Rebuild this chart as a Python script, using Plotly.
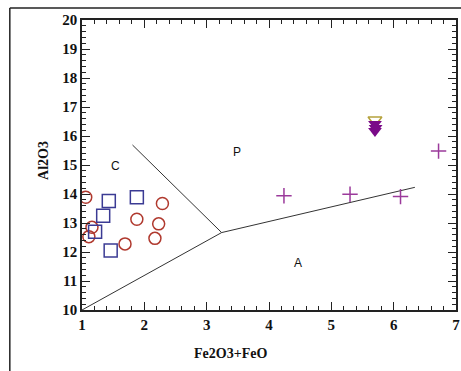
import plotly.graph_objects as go

# Sample groups: Fe2O3+FeO (x) vs Al2O3 (y)
circle_x = [1.06, 1.16, 1.11, 1.69, 1.88, 2.23, 2.29, 2.17]
circle_y = [13.89, 12.85, 12.53, 12.28, 13.13, 12.97, 13.67, 12.47]

square_x = [1.43, 1.34, 1.21, 1.46, 1.88]
square_y = [13.76, 13.25, 12.70, 12.05, 13.89]

plus_x = [4.24, 5.30, 6.11, 6.72]
plus_y = [13.94, 13.99, 13.91, 15.48]

tri_open_x = [5.70]
tri_open_y = [16.55]

tri_x = [5.70, 5.71, 5.70]
tri_y = [16.41, 16.28, 16.17]

# Field boundaries
bound_lower_x = [1.0, 3.24, 6.34]
bound_lower_y = [10.0, 12.67, 14.23]
bound_upper_x = [1.81, 3.24]
bound_upper_y = [15.69, 12.67]

# Field labels
field_names = ["C", "P", "A"]
field_x = [1.54, 3.49, 4.46]
field_y = [14.97, 15.45, 11.62]

fig = go.Figure()

line_style = dict(color="#333333", width=1)
fig.add_trace(go.Scatter(x=bound_lower_x, y=bound_lower_y, mode="lines", line=line_style))
fig.add_trace(go.Scatter(x=bound_upper_x, y=bound_upper_y, mode="lines", line=line_style))

fig.add_trace(go.Scatter(
    x=circle_x, y=circle_y, mode="markers",
    marker=dict(symbol="circle-open", size=12, color="#b0392e", line=dict(width=1.5)),
))
fig.add_trace(go.Scatter(
    x=square_x, y=square_y, mode="markers",
    marker=dict(symbol="square-open", size=13, color="#3b3b94", line=dict(width=1.5)),
))
fig.add_trace(go.Scatter(
    x=plus_x, y=plus_y, mode="markers",
    marker=dict(symbol="cross-thin-open", size=11, color="#9b3a9b", line=dict(width=1.5, color="#9b3a9b")),
))
fig.add_trace(go.Scatter(
    x=tri_open_x, y=tri_open_y, mode="markers",
    marker=dict(symbol="triangle-down-open", size=12, color="#b5a23c", line=dict(width=1.5)),
))
fig.add_trace(go.Scatter(
    x=tri_x, y=tri_y, mode="markers",
    marker=dict(symbol="triangle-down", size=12, color="#7a0a88", line=dict(width=0)),
))

for name, fx, fy in zip(field_names, field_x, field_y):
    fig.add_annotation(x=fx, y=fy, text=name, showarrow=False,
                       font=dict(family="Liberation Sans", size=12, color="#111111"))

tick_font = dict(family="Liberation Serif", size=15, color="#111111")
axis_common = dict(
    showgrid=False, zeroline=False, showline=True, linecolor="#222222", linewidth=1.5,
    mirror="ticks", ticks="inside", ticklen=8, tickwidth=1.2, tickcolor="#222222",
    tickfont=tick_font, dtick=1, ticklabeloverflow="allow",
)

fig.update_xaxes(range=[1, 7], tick0=1,
                 minor=dict(ticks="inside", ticklen=4, dtick=0.2, tick0=1, tickcolor="#222222"),
                 tickprefix="<b>", ticksuffix="</b>", **axis_common)
fig.update_yaxes(range=[10, 20], tick0=10,
                 minor=dict(ticks="inside", ticklen=4, dtick=0.2, tick0=10, tickcolor="#222222"),
                 tickprefix="<b>", ticksuffix="</b>", **axis_common)

title_font = dict(family="Liberation Serif", size=14, color="#111111")
fig.add_annotation(xref="paper", yref="paper", x=-0.13, y=0.517, text="<b>Al2O3</b>",
                   textangle=-90, showarrow=False, font=title_font)
fig.add_annotation(xref="paper", yref="paper", x=0.397, y=-0.118, yanchor="top",
                   text="<b>Fe2O3+FeO</b>", showarrow=False, font=title_font)

# Outer frame (top and left edges)
frame = dict(color="#222222", width=1.5)
fig.add_shape(type="line", xref="paper", yref="paper", x0=-0.193, x1=1.1, y0=1.0414, y1=1.0414, line=frame)
fig.add_shape(type="line", xref="paper", yref="paper", x0=-0.193, x1=-0.193, y0=1.0414, y1=-0.25, line=frame)

fig.update_layout(
    width=461, height=371,
    margin=dict(l=82, r=1, t=20, b=61),
    paper_bgcolor="white", plot_bgcolor="white",
    showlegend=False,
)

fig.write_html("out.html")
